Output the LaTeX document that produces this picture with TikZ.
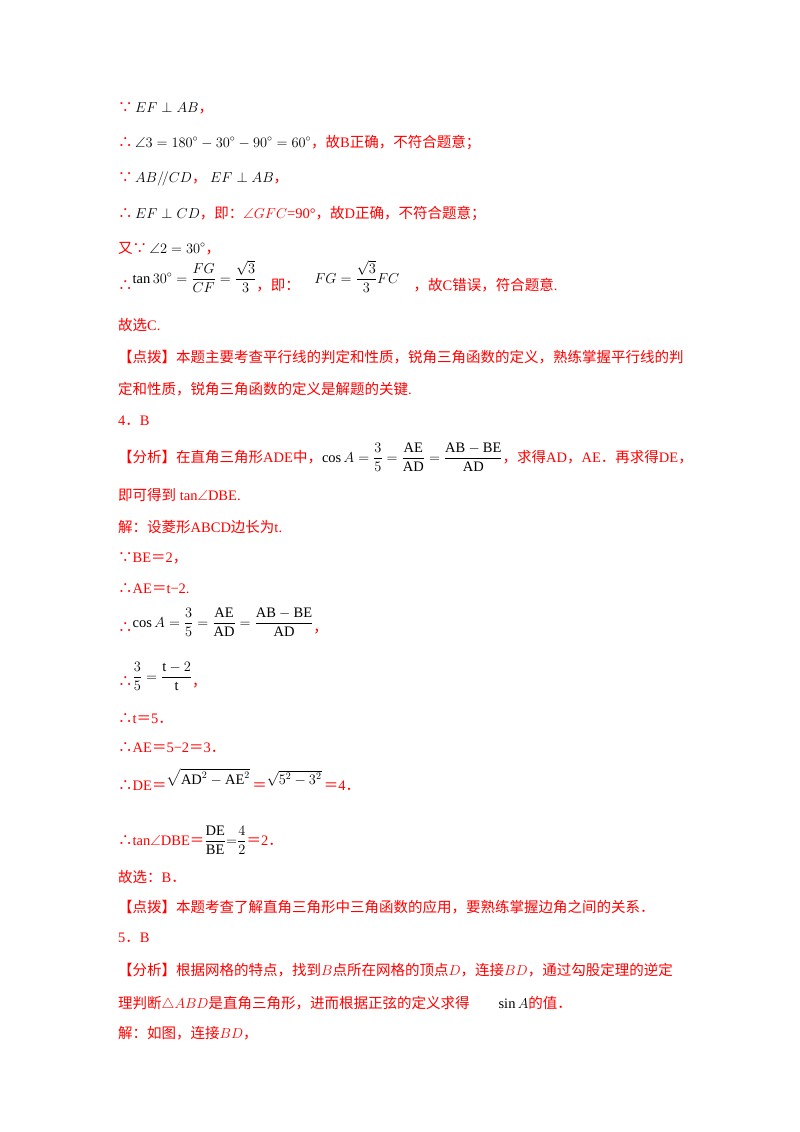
\documentclass[tikz,border=0pt]{standalone}
\usepackage{amsmath,amssymb}
\usepackage{fontspec}
\setmainfont{Liberation Serif}
\newfontfamily\cjk{Noto Sans CJK SC}
\definecolor{rd}{RGB}{255,0,0}
\newcommand{\zh}[1]{{\cjk #1}}
\newcommand{\bc}{{\cjk\color{rd}∵}}
\newcommand{\so}{{\cjk\color{rd}∴}}
\begin{document}
\begin{tikzpicture}[x=1pt,y=-1pt,
  ln/.style={anchor=base west,inner sep=0pt,font=\fontsize{14.5}{17}\selectfont,text=black}]
\useasboundingbox[fill=white] (0,0) rectangle (800,1132);
\node[ln] (l1) at (118,112) {\bc$\,E F\perp AB$\textcolor{rd}{\zh{，}}};
\node[ln] (l2) at (118,147) {\so$\,\angle 3=180^\circ-30^\circ-90^\circ=60^\circ$\textcolor{rd}{\zh{，故}B\zh{正确，不符合题意；}}};
\node[ln] (l3) at (118,182) {\bc$\,AB/\!/CD$\textcolor{rd}{\zh{，}}\ $EF\perp AB$\textcolor{rd}{\zh{，}}};
\node[ln] (l4) at (118,218) {\so$\,EF\perp CD$\textcolor{rd}{\zh{，即：}$\angle GFC$=90°\zh{，故}D\zh{正确，不符合题意；}}};
\node[ln] (l5) at (118,253) {\textcolor{rd}{\zh{又}}\bc$\,\angle 2=30^\circ$\textcolor{rd}{\zh{，}}};
\node[ln] (l6) at (118,290) {\so\raisebox{7pt}{$\tan 30^\circ=\dfrac{FG}{CF}=\dfrac{\sqrt3}{3}$}\textcolor{rd}{\zh{，即：}}\quad\raisebox{7pt}{$FG=\dfrac{\sqrt3}{3}FC$}\quad\textcolor{rd}{\zh{，故}C\zh{错误，符合题意}.}};
\node[ln,text=rd] (l7) at (118,330) {\zh{故选}C.};
\node[ln,text=rd] (l8) at (118,362) {\zh{【点拨】本题主要考查平行线的判定和性质，锐角三角函数的定义，熟练掌握平行线的判}};
\node[ln,text=rd] (l9) at (118,394) {\zh{定和性质，锐角三角函数的定义是解题的关键}.};
\node[ln,text=rd] (l10) at (118,425) {4\zh{．}B};
\node[ln,text=rd] (l11) at (118,462) {\zh{【分析】在直角三角形}ADE\zh{中，}\textcolor{black}{$\cos A=\dfrac35=\dfrac{\mathrm{AE}}{\mathrm{AD}}=\dfrac{\mathrm{AB}-\mathrm{BE}}{\mathrm{AD}}$}\zh{，求得}AD\zh{，}AE\zh{．再求得}DE\zh{，}};
\node[ln,text=rd] (l12) at (118,500) {\zh{即可得到} tan$\angle$DBE.};
\node[ln,text=rd] (l13) at (118,532) {\zh{解：设菱形}ABCD\zh{边长为}t.};
\node[ln,text=rd] (l14) at (118,562) {\zh{∵}BE\zh{＝}2\zh{，}};
\node[ln,text=rd] (l15) at (118,593) {\zh{∴}AE\zh{＝}t−2.};
\node[ln] (l16) at (118,632) {\so\raisebox{5pt}{$\cos A=\dfrac35=\dfrac{\mathrm{AE}}{\mathrm{AD}}=\dfrac{\mathrm{AB}-\mathrm{BE}}{\mathrm{AD}}$}\textcolor{rd}{\zh{，}}};
\node[ln] (l17) at (118,686) {\so\raisebox{5pt}{$\dfrac35=\dfrac{\mathrm{t}-2}{\mathrm{t}}$}\textcolor{rd}{\zh{，}}};
\node[ln,text=rd] (l18) at (118,723) {\zh{∴}t\zh{＝}5\zh{．}};
\node[ln,text=rd] (l19) at (118,752) {\zh{∴}AE\zh{＝}5−2\zh{＝}3\zh{．}};
\node[ln,text=rd] (l20) at (118,790) {\zh{∴}DE\zh{＝}\textcolor{black}{\raisebox{6pt}{$\sqrt{\mathrm{AD}^2-\mathrm{AE}^2}$}}\,\zh{＝}\textcolor{black}{\raisebox{6pt}{$\sqrt{5^2-3^2}$}}\,\zh{＝}4\zh{．}};
\node[ln,text=rd] (l21) at (118,845) {\zh{∴}tan$\angle$DBE\zh{＝}\textcolor{black}{$\dfrac{\mathrm{DE}}{\mathrm{BE}}{=}\dfrac42$}\zh{＝}2\zh{．}};
\node[ln,text=rd] (l22) at (118,882) {\zh{故选：}B\zh{．}};
\node[ln,text=rd] (l23) at (118,912) {\zh{【点拨】本题考查了解直角三角形中三角函数的应用，要熟练掌握边角之间的关系．}};
\node[ln,text=rd] (l24) at (118,942) {5\zh{．}B};
\node[ln,text=rd] (l25) at (118,975) {\zh{【分析】根据网格的特点，找到}$B$\zh{点所在网格的顶点}$D$\zh{，连接}$BD$\zh{，通过勾股定理的逆定}};
\node[ln,text=rd] (l26) at (118,1008) {\zh{理判断}$\triangle ABD$\zh{是直角三角形，进而根据正弦的定义求得}\qquad\textcolor{black}{$\sin A$}\zh{的值．}};
\node[ln,text=rd] (l27) at (118,1038) {\zh{解：如图，连接}$BD$\zh{，}};
\end{tikzpicture}
\end{document}
